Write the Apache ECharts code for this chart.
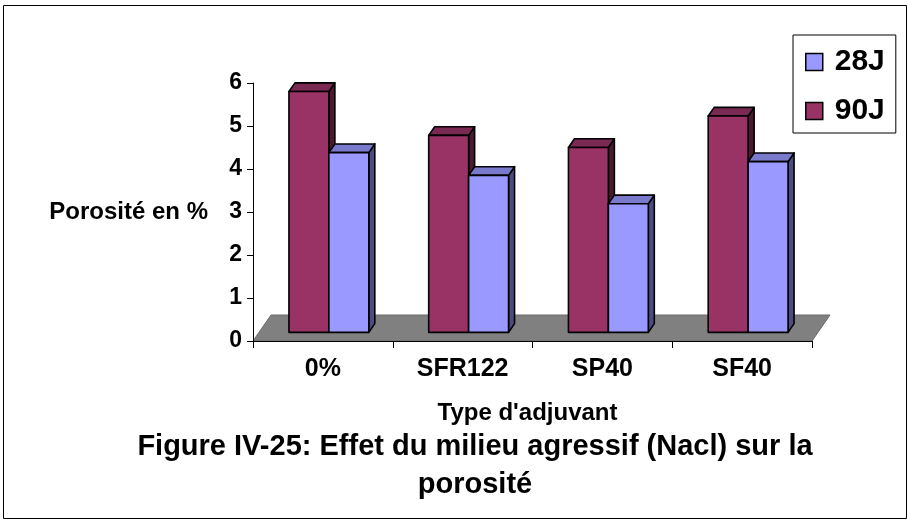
<!DOCTYPE html>
<html>
<head>
<meta charset="utf-8">
<script src="https://cdn.jsdelivr.net/npm/echarts@6/dist/echarts.min.js"></script>
<style>
  html, body { margin: 0; padding: 0; background: #fff; }
  #chart { width: 908px; height: 520px; }
</style>
</head>
<body>
<div id="chart"></div>
<script>
// Porosity by admixture type, after 28 and 90 days in NaCl
const categories = ['0%', 'SFR122', 'SP40', 'SF40'];
const values90J = [5.6, 4.58, 4.3, 5.03];
const values28J = [4.18, 3.65, 2.99, 3.97];
const yMin = 0, yMax = 6, yStep = 1;

const FONT = "'Liberation Sans', Arial, sans-serif";
const DEPTH = [18, -26];          // oblique depth of the floor, px
const BAR_FRACTION = 40 / 140;    // bar width relative to the category band

const COLORS_90J = { front: '#993366', top: '#7a2952', side: '#4c1933' };
const COLORS_28J = { front: '#9999ff', top: '#7a7acc', side: '#4c4c80' };

// 3D column: front face, top face and right side, set in the middle third of the floor depth
function columnRenderer(side, colors) {
  return function (params, api) {
    const i = api.value(0), v = api.value(1);
    const band = api.size([1, 0])[0];
    const base = api.coord([i, 0]);
    const top = api.coord([i, v]);
    const w = band * BAR_FRACTION;
    const dx = DEPTH[0] / 3, dy = DEPTH[1] / 3;
    const x0 = (side === 'left' ? base[0] - w : base[0]) + dx;
    const yB = base[1] + dy, yT = top[1] + dy;
    const edge = { stroke: '#000', lineWidth: 1.6, lineJoin: 'round' };
    return {
      type: 'group',
      children: [
        { type: 'polygon',
          shape: { points: [[x0 + w, yT], [x0 + w + dx, yT + dy], [x0 + w + dx, yB + dy], [x0 + w, yB]] },
          style: Object.assign({ fill: colors.side }, edge) },
        { type: 'polygon',
          shape: { points: [[x0, yT], [x0 + w, yT], [x0 + w + dx, yT + dy], [x0 + dx, yT + dy]] },
          style: Object.assign({ fill: colors.top }, edge) },
        { type: 'rect',
          shape: { x: x0, y: yT, width: w, height: yB - yT },
          style: Object.assign({ fill: colors.front }, edge) }
      ]
    };
  };
}

// grey floor under the columns
function floorRenderer(params, api) {
  const band = api.size([1, 0])[0];
  const a = api.coord([0, 0]);
  const b = api.coord([categories.length - 1, 0]);
  const xl = a[0] - band / 2, xr = b[0] + band / 2, y = a[1];
  return {
    type: 'polygon',
    shape: { points: [[xl, y], [xr, y], [xr + DEPTH[0], y + DEPTH[1]], [xl + DEPTH[0], y + DEPTH[1]]] },
    style: { fill: '#808080', stroke: '#6a6a6a', lineWidth: 1 }
  };
}

const chart = echarts.init(document.getElementById('chart'), null, { renderer: 'canvas' });

chart.setOption({
  backgroundColor: '#fff',
  animation: false,
  textStyle: { fontFamily: FONT },
  title: {
    text: 'Figure IV-25: Effet du milieu agressif (Nacl) sur la\nporosité',
    left: 475,
    top: 428,
    padding: 0,
    textAlign: 'center',
    textStyle: { fontFamily: FONT, fontSize: 29, fontWeight: 'bold', color: '#000', lineHeight: 38 }
  },
  legend: {
    orient: 'vertical',
    left: 793,
    top: 35,
    padding: [12, 11, 7, 12],
    itemGap: 19,
    itemWidth: 17,
    itemHeight: 17,
    icon: 'rect',
    borderColor: '#000',
    borderWidth: 1,
    itemStyle: { borderColor: '#000', borderWidth: 1.5 },
    textStyle: { fontFamily: FONT, fontSize: 30, fontWeight: 'bold', color: '#000', lineHeight: 30, padding: [0, 0, 0, 7] },
    data: ['28J', '90J']
  },
  grid: { left: 253, right: 96, top: 83, bottom: 179 },
  xAxis: {
    type: 'category',
    data: categories,
    z: 5,
    name: "Type d'adjuvant",
    nameLocation: 'middle',
    nameGap: 60,
    nameTextStyle: { fontFamily: FONT, fontSize: 24, fontWeight: 'bold', color: '#000', padding: [0, 10, 0, 0] },
    axisLine: { lineStyle: { color: '#000', width: 1 } },
    axisTick: { show: true, length: 7, lineStyle: { color: '#000' } },
    axisLabel: { fontFamily: FONT, fontSize: 25, fontWeight: 'bold', color: '#000', margin: 16 },
    splitLine: { show: false }
  },
  yAxis: {
    type: 'value',
    min: yMin,
    max: yMax,
    interval: yStep,
    z: 5,
    name: 'Porosité en %',
    nameLocation: 'middle',
    nameRotate: 0,
    nameGap: 45,
    nameTextStyle: { fontFamily: FONT, fontSize: 24, fontWeight: 'bold', color: '#000' },
    axisLine: { show: true, lineStyle: { color: '#000', width: 1 } },
    axisTick: { show: true, length: 6, lineStyle: { color: '#000' } },
    axisLabel: { fontFamily: FONT, fontSize: 23, fontWeight: 'bold', color: '#000', margin: 11 },
    splitLine: { show: false }
  },
  graphic: [
    { type: 'rect', silent: true, z: -10,
      shape: { x: 3.5, y: 5.5, width: 903, height: 513 },
      style: { fill: 'none', stroke: '#000', lineWidth: 1 } }
  ],
  series: [
    {
      name: 'floor',
      type: 'custom',
      silent: true,
      z: 1,
      renderItem: floorRenderer,
      encode: { x: 0, y: 1 },
      data: [[0, 0]]
    },
    {
      name: '90J',
      type: 'custom',
      z: 2,
      renderItem: columnRenderer('left', COLORS_90J),
      itemStyle: { color: COLORS_90J.front, borderColor: '#000', borderWidth: 1.5 },
      encode: { x: 0, y: 1 },
      data: categories.map((c, i) => [i, values90J[i]])
    },
    {
      name: '28J',
      type: 'custom',
      z: 3,
      renderItem: columnRenderer('right', COLORS_28J),
      itemStyle: { color: COLORS_28J.front, borderColor: '#000', borderWidth: 1.5 },
      encode: { x: 0, y: 1 },
      data: categories.map((c, i) => [i, values28J[i]])
    }
  ]
});
</script>
</body>
</html>
